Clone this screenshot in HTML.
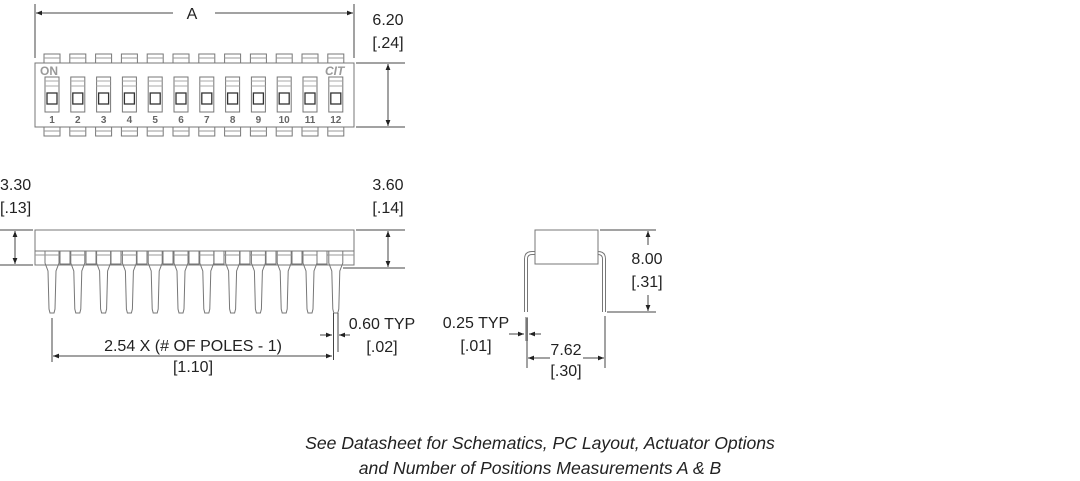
<!DOCTYPE html>
<html><head><style>
html,body{margin:0;padding:0;background:#fff;width:1080px;height:481px;overflow:hidden}
svg{display:block}
text{font-family:"Liberation Sans",sans-serif;fill:#222}
</style></head><body>
<svg width="1080" height="481" viewBox="0 0 1080 481" xmlns="http://www.w3.org/2000/svg">
<defs>
<marker id="ar" viewBox="0 0 10 10" refX="10" refY="5" markerWidth="8" markerHeight="6" orient="auto-start-reverse"><path d="M0,1 L10,5 L0,9 z" fill="#222"/></marker>
<g id="sw">
<rect x="-8" y="54" width="16" height="9" fill="#fff" stroke="#777" stroke-width="1"/>
<line x1="-8" y1="58" x2="8" y2="58" stroke="#999"/>
<rect x="-7" y="77" width="14" height="35" fill="#fff" stroke="#777"/>
<line x1="-7" y1="81" x2="7" y2="81" stroke="#aaa"/>
<line x1="-7" y1="86" x2="7" y2="86" stroke="#aaa"/>
<rect x="-5" y="93" width="10" height="11" fill="#fff" stroke="#333" stroke-width="1.3"/>
<rect x="-8" y="127" width="16" height="9" fill="#fff" stroke="#777"/>
<line x1="-8" y1="131" x2="8" y2="131" stroke="#999"/>
</g>
<g id="pin">
<path d="M-7,251 L-7,263 L-4,271 L-3,309 L-2,313 L2,313 L3,309 L4,271 L7,263 L7,251" fill="#fff" stroke="#777"/>
</g>
</defs>

<!-- TOP VIEW -->
<g stroke="#444" stroke-width="1" fill="none">
<line x1="35" y1="4" x2="35" y2="58"/>
<line x1="354" y1="4" x2="354" y2="58"/>
<line x1="36" y1="13" x2="173" y2="13" marker-start="url(#ar)"/>
<line x1="215" y1="13" x2="353" y2="13" marker-end="url(#ar)"/>
<line x1="356" y1="63" x2="405" y2="63"/>
<line x1="356" y1="127" x2="405" y2="127"/>
<line x1="388" y1="64" x2="388" y2="126" marker-start="url(#ar)" marker-end="url(#ar)"/>
</g>
<rect x="35" y="63" width="319" height="64" fill="#fff" stroke="#777"/>
<g>
<use href="#sw" x="52"/><use href="#sw" x="77.8"/><use href="#sw" x="103.6"/><use href="#sw" x="129.4"/><use href="#sw" x="155.2"/><use href="#sw" x="181"/><use href="#sw" x="206.8"/><use href="#sw" x="232.6"/><use href="#sw" x="258.4"/><use href="#sw" x="284.2"/><use href="#sw" x="310"/><use href="#sw" x="335.8"/>
</g>
<rect x="35" y="63" width="319" height="64" fill="none" stroke="#777"/>
<g font-size="10" font-weight="bold" text-anchor="middle">
<text x="52" y="123" style="fill:#666">1</text><text x="77.8" y="123" style="fill:#666">2</text><text x="103.6" y="123" style="fill:#666">3</text><text x="129.4" y="123" style="fill:#666">4</text><text x="155.2" y="123" style="fill:#666">5</text><text x="181" y="123" style="fill:#666">6</text><text x="206.8" y="123" style="fill:#666">7</text><text x="232.6" y="123" style="fill:#666">8</text><text x="258.4" y="123" style="fill:#666">9</text><text x="284.2" y="123" style="fill:#666">10</text><text x="310" y="123" style="fill:#666">11</text><text x="335.8" y="123" style="fill:#666">12</text>
</g>
<text x="40" y="75" font-size="12" font-weight="bold" style="fill:#999">ON</text>
<text x="325" y="75" font-size="12" font-weight="bold" font-style="italic" style="fill:#999">CIT</text>
<text x="192" y="19" font-size="16" text-anchor="middle">A</text>
<text x="388" y="25" font-size="16" text-anchor="middle">6.20</text>
<text x="388" y="48" font-size="16" text-anchor="middle">[.24]</text>

<!-- SIDE VIEW -->
<g>
<use href="#pin" x="52"/><use href="#pin" x="77.8"/><use href="#pin" x="103.6"/><use href="#pin" x="129.4"/><use href="#pin" x="155.2"/><use href="#pin" x="181"/><use href="#pin" x="206.8"/><use href="#pin" x="232.6"/><use href="#pin" x="258.4"/><use href="#pin" x="284.2"/><use href="#pin" x="310"/><use href="#pin" x="335.8"/>
</g>
<rect x="35" y="230" width="319" height="21" fill="#fff" stroke="#777"/>
<rect x="35" y="251" width="319" height="14" fill="none" stroke="#777"/>
<line x1="35" y1="255" x2="354" y2="255" stroke="#999"/>
<g fill="#fff" stroke="#777">
<rect x="60" y="251" width="10" height="13"/><rect x="86" y="251" width="10" height="13"/><rect x="111" y="251" width="10" height="13"/><rect x="137" y="251" width="10" height="13"/><rect x="163" y="251" width="10" height="13"/><rect x="189" y="251" width="10" height="13"/><rect x="214" y="251" width="10" height="13"/><rect x="240" y="251" width="10" height="13"/><rect x="266" y="251" width="10" height="13"/><rect x="292" y="251" width="10" height="13"/><rect x="317" y="251" width="10" height="13"/>
</g>
<g stroke="#444" stroke-width="1" fill="none">
<line x1="0" y1="230" x2="33" y2="230"/>
<line x1="0" y1="265" x2="33" y2="265"/>
<line x1="15" y1="231" x2="15" y2="264" marker-start="url(#ar)" marker-end="url(#ar)"/>
<line x1="356" y1="230" x2="405" y2="230"/>
<line x1="343" y1="268" x2="405" y2="268"/>
<line x1="388" y1="231" x2="388" y2="267" marker-start="url(#ar)" marker-end="url(#ar)"/>
<line x1="52" y1="318" x2="52" y2="362"/>
<line x1="333.5" y1="313" x2="333.5" y2="360"/>
<line x1="338" y1="313" x2="338" y2="352"/>
<line x1="53" y1="356" x2="332" y2="356" marker-start="url(#ar)" marker-end="url(#ar)"/>
<line x1="320" y1="335" x2="332" y2="335" marker-end="url(#ar)"/>
<line x1="350" y1="335" x2="339" y2="335" marker-end="url(#ar)"/>
</g>
<text x="0" y="190" font-size="16">3.30</text>
<text x="0" y="213" font-size="16">[.13]</text>
<text x="388" y="190" font-size="16" text-anchor="middle">3.60</text>
<text x="388" y="213" font-size="16" text-anchor="middle">[.14]</text>
<text x="382" y="329" font-size="16" text-anchor="middle">0.60 TYP</text>
<text x="382" y="352" font-size="16" text-anchor="middle">[.02]</text>
<text x="193" y="351" font-size="16" text-anchor="middle">2.54 X (# OF POLES - 1)</text>
<text x="193" y="372" font-size="16" text-anchor="middle">[1.10]</text>

<!-- END VIEW -->
<path d="M526,312 L526,259 Q526,253 532,253 L598,253 Q604,253 604,259 L604,312" fill="none" stroke="#777" stroke-width="4"/>
<path d="M526,312 L526,259 Q526,253 532,253 L598,253 Q604,253 604,259 L604,312" fill="none" stroke="#fff" stroke-width="2"/>
<rect x="535" y="230" width="63" height="34" fill="#fff" stroke="#777"/>
<rect x="525" y="317" width="3" height="24" fill="#aaa"/>
<g stroke="#444" stroke-width="1" fill="none">
<line x1="600" y1="230" x2="656" y2="230"/>
<line x1="607" y1="312" x2="656" y2="312"/>
<line x1="648" y1="231" x2="648" y2="245" marker-start="url(#ar)"/>
<line x1="648" y1="295" x2="648" y2="311" marker-end="url(#ar)"/>
<line x1="527" y1="318" x2="527" y2="368"/>
<line x1="605" y1="316" x2="605" y2="368"/>
<line x1="528" y1="358" x2="550" y2="358" marker-start="url(#ar)"/>
<line x1="583" y1="358" x2="604" y2="358" marker-end="url(#ar)"/>
<line x1="509" y1="334" x2="524" y2="334" marker-end="url(#ar)"/>
<line x1="541" y1="334" x2="529" y2="334" marker-end="url(#ar)"/>
</g>
<text x="647" y="264" font-size="16" text-anchor="middle">8.00</text>
<text x="647" y="287" font-size="16" text-anchor="middle">[.31]</text>
<text x="476" y="328" font-size="16" text-anchor="middle">0.25 TYP</text>
<text x="476" y="351" font-size="16" text-anchor="middle">[.01]</text>
<text x="566" y="355" font-size="16" text-anchor="middle">7.62</text>
<text x="566" y="376" font-size="16" text-anchor="middle">[.30]</text>

<text x="540" y="449" font-size="17.6" font-style="italic" text-anchor="middle">See Datasheet for Schematics, PC Layout, Actuator Options</text>
<text x="540" y="474" font-size="17.6" font-style="italic" text-anchor="middle">and Number of Positions Measurements A &amp; B</text>
</svg>
</body></html>
